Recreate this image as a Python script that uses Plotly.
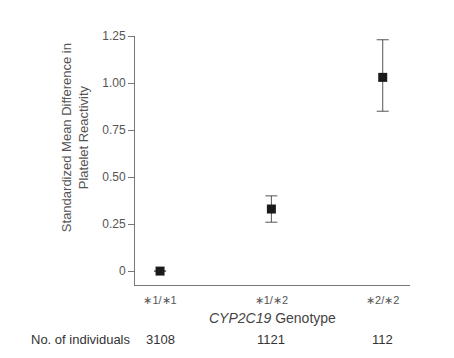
import plotly.graph_objects as go

genotypes = ["∗1/∗1", "∗1/∗2", "∗2/∗2"]
smd = [0.0, 0.33, 1.03]
ci_upper = [None, 0.40, 1.23]
ci_lower = [None, 0.26, 0.85]
n_individuals = ["3108", "1121", "112"]
ytick_vals = [0, 0.25, 0.5, 0.75, 1.0, 1.25]
ytick_text = ["0", "0.25", "0.50", "0.75", "1.00", "1.25"]

xpos = list(range(len(genotypes)))
err_plus = [None if u is None else u - m for u, m in zip(ci_upper, smd)]
err_minus = [None if l is None else m - l for m, l in zip(smd, ci_lower)]

fig = go.Figure()
fig.add_trace(go.Scatter(
    x=xpos, y=smd, mode="markers",
    marker=dict(symbol="square", size=9, color="#1a1a1a"),
    error_y=dict(type="data", symmetric=False, array=err_plus, arrayminus=err_minus,
                 color="#555555", thickness=1, width=6, visible=True),
    showlegend=False,
))

font = "Liberation Sans, Arial, sans-serif"
fig.update_layout(
    width=446, height=350,
    margin=dict(l=127, r=44, t=28, b=73),
    paper_bgcolor="white", plot_bgcolor="white",
    font=dict(family=font, size=12, color="#444444"),
    xaxis=dict(range=[-0.225, 2.245], tickvals=xpos, ticktext=genotypes,
               showgrid=False, zeroline=False, showline=True, linecolor="#777777",
               linewidth=1, ticks="", ticklabelstandoff=5,
               tickfont=dict(size=11, color="#555555")),
    yaxis=dict(range=[-0.074, 1.25], tickvals=ytick_vals, ticktext=ytick_text,
               showgrid=False, zeroline=False, showline=True, linecolor="#777777",
               linewidth=1, ticks="outside", ticklen=6, tickcolor="#777777",
               tickfont=dict(size=12, color="#555555")),
)

# y-axis title
fig.add_annotation(x=-0.218, y=0.59, xref="paper", yref="paper",
                   xanchor="center", yanchor="middle",
                   text="Standardized Mean Difference in<br>Platelet Reactivity",
                   textangle=-90, showarrow=False, align="center",
                   font=dict(size=13, color="#555555"))
# x-axis title
fig.add_annotation(x=0.5, y=-0.1325, xref="paper", yref="paper",
                   xanchor="center", yanchor="middle",
                   text="<i>CYP2C19</i> Genotype", showarrow=False,
                   font=dict(size=14, color="#444444"))

for x, n in zip(xpos, n_individuals):
    fig.add_annotation(x=x, y=-0.217, xref="x", yref="paper", text=n,
                       xanchor="center", yanchor="middle",
                       showarrow=False, font=dict(size=13, color="#333333"))
fig.add_annotation(x=-0.385, y=-0.217, xref="paper", yref="paper", xanchor="left",
                   yanchor="middle",
                   text="No. of individuals", showarrow=False,
                   font=dict(size=13, color="#333333"))

fig.write_html("out.html")
